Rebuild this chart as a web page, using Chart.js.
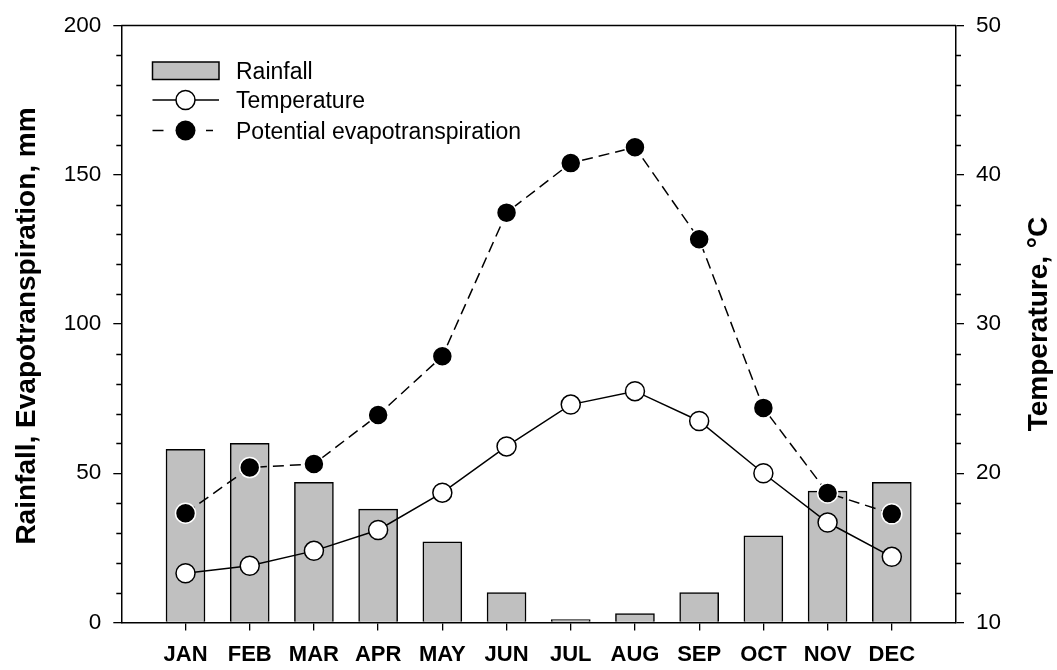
<!DOCTYPE html>
<html>
<head>
<meta charset="utf-8">
<title>Rainfall, temperature and evapotranspiration</title>
<script src="https://cdn.jsdelivr.net/npm/chart.js@4.4.1/dist/chart.umd.min.js"></script>
<style>
    body { margin: 0; background: #fff; }
    #wrap { width: 1057px; height: 670px; position: relative; }
</style>
</head>
<body>
<div id="wrap"><canvas id="climate-chart"></canvas></div>
<script>
// Monthly data
const months = ['JAN', 'FEB', 'MAR', 'APR', 'MAY', 'JUN', 'JUL', 'AUG', 'SEP', 'OCT', 'NOV', 'DEC'];
const rainfall = [58, 60, 47, 38, 27, 10, 1, 3, 10, 29, 44, 47];                          // mm
const temperature = [13.3, 13.8, 14.8, 16.2, 18.7, 21.8, 24.6, 25.5, 23.5, 20.0, 16.7, 14.4]; // °C
const evapotranspiration = [36.6, 51.9, 53.1, 69.5, 89.2, 137.3, 153.9, 159.2, 128.4, 71.9, 43.4, 36.4]; // mm

// Axis tick values
const leftTicks = [0, 50, 100, 150, 200];
const rightTicks = [10, 20, 30, 40, 50];

const FONT = "'Liberation Sans', Arial, Helvetica, sans-serif";

// months sit at x = 1..12 on a 0..13 linear axis (one full slot of space at each end)
const toPoints = (values) => values.map((v, i) => ({ x: i + 1, y: v }));

// Minor ticks, top frame line, legend and axis titles
const decorations = {
    id: 'decorations',
    afterDraw(chart) {
        const ctx = chart.ctx;
        const area = chart.chartArea;
        const yL = chart.scales.y;
        const yR = chart.scales.y1;

        ctx.save();
        ctx.strokeStyle = '#000';
        ctx.lineWidth = 1.3;

        // top frame
        ctx.beginPath();
        ctx.moveTo(area.left, area.top);
        ctx.lineTo(area.right, area.top);
        ctx.stroke();

        // minor ticks, left axis every 10
        ctx.beginPath();
        for (let v = 10; v < 200; v += 10) {
            if (v % 50 === 0) continue;
            const py = Math.round(yL.getPixelForValue(v)) + 0.5;
            ctx.moveTo(area.left - 5, py);
            ctx.lineTo(area.left, py);
        }
        // minor ticks, right axis every 2
        for (let v = 12; v < 50; v += 2) {
            if (v % 10 === 0) continue;
            const py = Math.round(yR.getPixelForValue(v)) + 0.5;
            ctx.moveTo(area.right, py);
            ctx.lineTo(area.right + 5, py);
        }
        ctx.stroke();

        // legend
        const ds = chart.data.datasets;
        const sx0 = 152.5, sx1 = 219, mx = 185.5, tx = 236;
        ctx.font = `23px ${FONT}`;
        ctx.fillStyle = '#000';
        ctx.textAlign = 'left';
        ctx.textBaseline = 'alphabetic';

        // Rainfall box
        ctx.fillStyle = ds[0].backgroundColor;
        ctx.fillRect(sx0, 62, sx1 - sx0, 17.5);
        ctx.lineWidth = 1.5;
        ctx.strokeRect(sx0, 62, sx1 - sx0, 17.5);
        ctx.fillStyle = '#000';
        ctx.fillText(ds[0].label, tx, 79);

        // Temperature line + open circle
        ctx.beginPath();
        ctx.moveTo(sx0, 100);
        ctx.lineTo(sx1, 100);
        ctx.stroke();
        ctx.beginPath();
        ctx.arc(mx, 100, ds[1].pointRadius, 0, Math.PI * 2);
        ctx.fillStyle = ds[1].pointBackgroundColor;
        ctx.fill();
        ctx.strokeStyle = ds[1].pointBorderColor;
        ctx.stroke();
        ctx.fillStyle = '#000';
        ctx.fillText(ds[1].label, tx, 108.3);

        // Evapotranspiration dashes + filled circle
        ctx.strokeStyle = '#000';
        ctx.beginPath();
        ctx.moveTo(sx0, 130.5);
        ctx.lineTo(sx0 + 11, 130.5);
        ctx.moveTo(sx1 - 13, 130.5);
        ctx.lineTo(sx1 - 6, 130.5);
        ctx.stroke();
        ctx.beginPath();
        ctx.arc(mx, 130.5, ds[2].pointRadius, 0, Math.PI * 2);
        ctx.fillStyle = ds[2].pointBackgroundColor;
        ctx.fill();
        ctx.fillStyle = '#000';
        ctx.fillText(ds[2].label, tx, 138.5);

        // axis titles, both reading bottom-to-top
        const midY = (area.top + area.bottom) / 2;
        ctx.font = `bold 28px ${FONT}`;
        ctx.textAlign = 'center';
        ctx.textBaseline = 'middle';
        ctx.save();
        ctx.translate(27, midY + 2);
        ctx.rotate(-Math.PI / 2);
        ctx.fillText('Rainfall, Evapotranspiration, mm', 0, 0);
        ctx.restore();
        ctx.save();
        ctx.translate(1039, midY);
        ctx.rotate(-Math.PI / 2);
        ctx.fillText('Temperature, \u00B0C', 0, 0);
        ctx.restore();

        ctx.restore();
    }
};

const ctx = document.getElementById('climate-chart').getContext('2d');
const chart = new Chart(ctx, {
    type: 'bar',
    data: {
        datasets: [
            {
                type: 'bar',
                label: 'Rainfall',
                data: toPoints(rainfall),
                backgroundColor: '#c0c0c0',
                borderColor: '#000',
                borderWidth: 1.5,
                borderSkipped: 'start',
                barThickness: 39,
                yAxisID: 'y',
                order: 3
            },
            {
                type: 'line',
                label: 'Temperature',
                data: toPoints(temperature),
                borderColor: '#000',
                borderWidth: 1.5,
                pointRadius: 9.5,
                pointBackgroundColor: '#fff',
                pointBorderColor: '#000',
                pointBorderWidth: 1.5,
                tension: 0,
                yAxisID: 'y1',
                order: 2
            },
            {
                type: 'line',
                label: 'Potential evapotranspiration',
                data: toPoints(evapotranspiration),
                borderColor: '#000',
                borderWidth: 1.5,
                borderDash: [11, 6],
                pointRadius: 10,
                pointBackgroundColor: '#000',
                pointBorderColor: '#fff',
                pointBorderWidth: 1.5,
                tension: 0,
                yAxisID: 'y',
                order: 1
            }
        ]
    },
    options: {
        responsive: true,
        maintainAspectRatio: false,
        animation: false,
        layout: { padding: { top: 22.5, left: 0, right: 0, bottom: 0 } },
        plugins: {
            legend: { display: false },
            tooltip: { enabled: false }
        },
        scales: {
            x: {
                type: 'linear',
                position: 'bottom',
                min: 0,
                max: 13,
                offset: false,
                afterBuildTicks: (scale) => {
                    scale.ticks = months.map((m, i) => ({ value: i + 1 }));
                },
                afterFit: (scale) => { scale.height = 47.5; },
                grid: { offset: false, drawOnChartArea: false, drawTicks: true, tickLength: 8, color: '#000', lineWidth: 1.3 },
                border: { display: true, color: '#000', width: 1.5 },
                ticks: {
                    autoSkip: false,
                    maxRotation: 0,
                    padding: 11,
                    color: '#000',
                    font: { family: FONT, size: 22, weight: 'bold' },
                    callback: (value) => months[value - 1] || ''
                }
            },
            y: {
                type: 'linear',
                position: 'left',
                min: 0,
                max: 200,
                afterBuildTicks: (scale) => {
                    scale.ticks = leftTicks.map(v => ({ value: v }));
                },
                afterFit: (scale) => { scale.width = 121.3; },
                grid: { drawOnChartArea: false, drawTicks: true, tickLength: 8, color: '#000', lineWidth: 1.3 },
                border: { display: true, color: '#000', width: 1.5 },
                ticks: {
                    padding: 12,
                    color: '#000',
                    font: { family: FONT, size: 22.5 }
                }
            },
            y1: {
                type: 'linear',
                position: 'right',
                min: 10,
                max: 50,
                afterBuildTicks: (scale) => {
                    scale.ticks = rightTicks.map(v => ({ value: v }));
                },
                afterFit: (scale) => { scale.width = 101; },
                grid: { drawOnChartArea: false, drawTicks: true, tickLength: 8, color: '#000', lineWidth: 1.3 },
                border: { display: true, color: '#000', width: 1.5 },
                ticks: {
                    padding: 12,
                    color: '#000',
                    font: { family: FONT, size: 22.5 }
                }
            }
        }
    },
    plugins: [decorations]
});
</script>
</body>
</html>
